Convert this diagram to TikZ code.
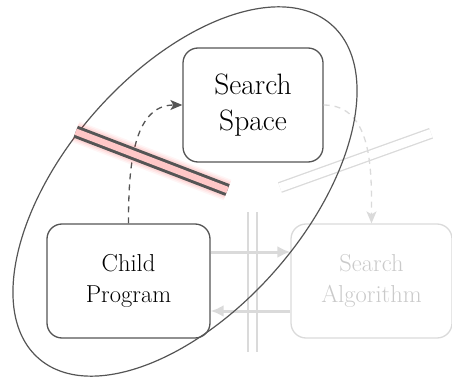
\documentclass[tikz,border=0pt]{standalone}
\usepackage{xcolor}
\usepackage{tikz}
\usetikzlibrary{arrows.meta}
\definecolor{inkgray}{HTML}{555555}
\definecolor{fadegray}{HTML}{DADADA}
\definecolor{fadetext}{HTML}{CACACA}

\begin{document}
\begin{tikzpicture}[x=1pt,y=-1pt,
	block/.style={rectangle, rounded corners=15pt, draw=inkgray, line width=1.3pt, minimum height=114pt, align=center, font=\fontsize{24.5pt}{31pt}\selectfont},
	fadeblock/.style={block, draw=fadegray, text=fadetext},
	cutline/.style={double=white, draw=fadegray, line width=1.3pt, double distance=7.8pt}]
		\useasboundingbox (0,0) rectangle (452,377);

		% Light cuts (drawn first, under everything)
		\coordinate (CutA1) at (280,187.5);
		\coordinate (CutA2) at (431,133.3);
		\coordinate (CutB1) at (252.5,212);
		\coordinate (CutB2) at (252.5,352);
		\draw [cutline, double distance=8.6pt] (CutA1) -- (CutA2);
		\draw [cutline] (CutB1) -- (CutB2);

		% Search space
		\node (SS) at (253,105) [block, minimum width=140pt, font=\fontsize{29.5pt}{36pt}\selectfont] {Search\\Space};

		% Child program
		\node (CP) at (128.5,281) [block, minimum width=163pt] {Child\\Program};

		% Search algorithm (faded)
		\node (SA) at (371.5,281) [fadeblock, minimum width=161pt] {Search\\Algorithm};

		% Loop between child program and search algorithm
		\draw [fadegray, line width=3pt, -{Latex[length=13pt,width=12pt]}] ([yshift=29pt]CP.east) -- ([yshift=29pt]SA.west);
		\draw [fadegray, line width=3pt, -{Latex[length=13pt,width=12pt]}] ([yshift=-30pt]SA.west) -- ([yshift=-30pt]CP.east);

		% Dashed links
		\draw [inkgray, line width=1.3pt, dash pattern=on 6pt off 5pt, -{Stealth[length=12pt,width=10pt,inset=3pt]}] (CP.north) to[out=90,in=180] (SS.west);
		\draw [fadegray, line width=1.3pt, dash pattern=on 6pt off 5pt, -{Stealth[length=12pt,width=10pt,inset=3pt]}] (SS.east) to[out=0,in=90] (SA.north);

		% Ellipse round the two dark blocks
		\draw [inkgray, line width=1.2pt, shift={(185,191.5)}, rotate=48.7] (0,0) ellipse [x radius=222, y radius=120];

		% Red cut with soft glow
		\coordinate (Cut1) at (75.7,131.7);
		\coordinate (Cut2) at (227.5,190);
		\foreach \w/\o in {22/0.04,19/0.05,16/0.07}
			\draw [red, line width=\w pt, opacity=\o] (Cut1) -- (Cut2);
		\draw [double=red!22, draw=inkgray, line width=3pt, double distance=6.5pt] (Cut1) -- (Cut2);
\end{tikzpicture}
\end{document}
